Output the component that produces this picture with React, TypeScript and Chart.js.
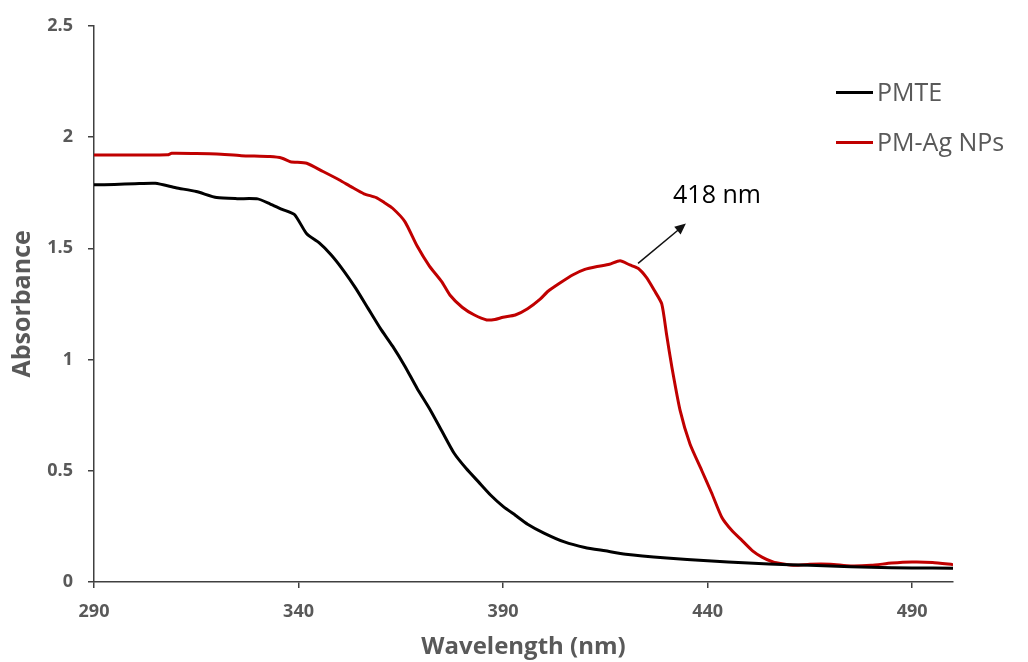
import React, { useEffect, useRef } from "react";
import { Chart, registerables } from "chart.js";

Chart.register(...registerables);

// ---- Data ----
const pmteWavelengths = [
  290, 295, 300, 305, 310, 315, 320, 325, 330, 333, 336, 339, 342, 345, 348, 351, 354, 357, 360,
  363, 366, 369, 372, 375, 378, 381, 384, 387, 390, 393, 396, 400, 405, 410, 415, 420, 430, 440,
  450, 460, 470, 480, 490, 500,
];
const pmteAbsorbance = [
  1.785, 1.787, 1.79, 1.792, 1.772, 1.755, 1.728, 1.723, 1.722, 1.7, 1.675, 1.652, 1.565, 1.525,
  1.47, 1.4, 1.32, 1.23, 1.14, 1.06, 0.97, 0.87, 0.78, 0.68, 0.58, 0.51, 0.45, 0.39, 0.34, 0.3,
  0.26, 0.22, 0.18, 0.155, 0.14, 0.125, 0.108, 0.095, 0.085, 0.078, 0.072, 0.066, 0.063, 0.062,
];

const agWavelengths = [
  290, 300, 308, 309, 315, 320, 326, 333, 336, 338, 342, 346, 350, 353, 356, 359, 361, 363, 366,
  369, 372, 375, 377, 380, 383, 386, 388, 390, 393, 396, 399, 401, 404, 407, 410, 413, 416, 418.6,
  421, 423, 425, 427, 428.8, 430, 431.3, 433.3, 435.7, 438.6, 441, 443.5, 446, 448.4, 451, 453.3,
  456, 458.2, 461.4, 465, 470, 475, 480, 485, 490, 495, 500,
];
const agAbsorbance = [
  1.919, 1.919, 1.92, 1.927, 1.926, 1.924, 1.916, 1.912, 1.905, 1.889, 1.882, 1.845, 1.807, 1.775,
  1.745, 1.728, 1.705, 1.68, 1.62, 1.51, 1.42, 1.35, 1.29, 1.235, 1.2, 1.178, 1.18, 1.19, 1.2,
  1.228, 1.27, 1.307, 1.345, 1.38, 1.405, 1.418, 1.428, 1.444, 1.425, 1.41, 1.37, 1.31, 1.25, 1.11,
  0.963, 0.77, 0.62, 0.5, 0.4, 0.29, 0.23, 0.187, 0.14, 0.112, 0.09, 0.082, 0.075, 0.08, 0.08,
  0.072, 0.075, 0.085, 0.09, 0.088, 0.078,
];

const seriesNames = ["PMTE", "PM-Ag NPs"];
const seriesColors = ["#000000", "#C00000"];
const xTickValues = [290, 340, 390, 440, 490];
const yTickValues = [0, 0.5, 1, 1.5, 2, 2.5];
const yTickLabels = ["0", "0.5", "1", "1.5", "2", "2.5"];
const xTitle = "Wavelength (nm)";
const yTitle = "Absorbance";
const peakLabel = "418 nm";
// arrow tail/head and label anchor, in data units
const arrowFrom = { x: 423, y: 1.432 };
const arrowTo = { x: 434.7, y: 1.611 };
const labelAt = { x: 442.3, y: 1.735 };

const GRAY = "#595959";
const AXIS = "#404040";

export default function App() {
  const ref = useRef<HTMLCanvasElement>(null);

  useEffect(() => {
    if (!ref.current) return;

    const overlay = {
      id: "overlay",
      afterDraw(chart: any) {
        const ctx = chart.ctx;
        const xs = chart.scales.x;
        const ys = chart.scales.y;
        ctx.save();
        // legend
        const legendRows = [92.5, 142.5];
        seriesNames.forEach((name, i) => {
          ctx.strokeStyle = seriesColors[i];
          ctx.lineWidth = 3;
          ctx.beginPath();
          ctx.moveTo(836, legendRows[i]);
          ctx.lineTo(873, legendRows[i]);
          ctx.stroke();
          ctx.fillStyle = GRAY;
          ctx.font = "25px 'Open Sans'";
          ctx.textAlign = "left";
          ctx.textBaseline = "middle";
          ctx.fillText(name, 877, legendRows[i] + 1);
        });
        // annotation arrow
        const x1 = xs.getPixelForValue(arrowFrom.x);
        const y1 = ys.getPixelForValue(arrowFrom.y);
        const x2 = xs.getPixelForValue(arrowTo.x);
        const y2 = ys.getPixelForValue(arrowTo.y);
        const ang = Math.atan2(y2 - y1, x2 - x1);
        const headLen = 11;
        const headW = 5;
        ctx.strokeStyle = "#111";
        ctx.fillStyle = "#111";
        ctx.lineWidth = 1.5;
        ctx.beginPath();
        ctx.moveTo(x1, y1);
        ctx.lineTo(x2 - Math.cos(ang) * headLen * 0.8, y2 - Math.sin(ang) * headLen * 0.8);
        ctx.stroke();
        ctx.beginPath();
        ctx.moveTo(x2, y2);
        ctx.lineTo(
          x2 - Math.cos(ang) * headLen + Math.sin(ang) * headW,
          y2 - Math.sin(ang) * headLen - Math.cos(ang) * headW
        );
        ctx.lineTo(
          x2 - Math.cos(ang) * headLen - Math.sin(ang) * headW,
          y2 - Math.sin(ang) * headLen + Math.cos(ang) * headW
        );
        ctx.closePath();
        ctx.fill();
        // label
        ctx.fillStyle = "#000";
        ctx.font = "25px 'Open Sans'";
        ctx.textAlign = "center";
        ctx.textBaseline = "middle";
        ctx.fillText(peakLabel, xs.getPixelForValue(labelAt.x), ys.getPixelForValue(labelAt.y));
        ctx.restore();
      },
    };

    const chart = new Chart(ref.current, {
      type: "line",
      data: {
        datasets: [
          {
            label: seriesNames[0],
            data: pmteWavelengths.map((x, i) => ({ x, y: pmteAbsorbance[i] })),
            borderColor: seriesColors[0],
            backgroundColor: seriesColors[0],
            borderWidth: 3,
            pointRadius: 0,
            tension: 0.2,
            borderJoinStyle: "round",
          },
          {
            label: seriesNames[1],
            data: agWavelengths.map((x, i) => ({ x, y: agAbsorbance[i] })),
            borderColor: seriesColors[1],
            backgroundColor: seriesColors[1],
            borderWidth: 3,
            pointRadius: 0,
            tension: 0.2,
            borderJoinStyle: "round",
          },
        ],
      },
      options: {
        animation: false,
        responsive: true,
        maintainAspectRatio: false,
        layout: { padding: { left: 0, right: 75, top: 23, bottom: 0 } },
        plugins: {
          legend: { display: false },
          tooltip: { enabled: false },
        },
        scales: {
          x: {
            type: "linear",
            min: 290,
            max: 500,
            afterBuildTicks: (scale: any) => {
              scale.ticks = xTickValues.map((v) => ({ value: v }));
            },
            afterFit: (scale: any) => {
              scale.height = 80;
            },
            grid: {
              display: true,
              drawOnChartArea: false,
              drawTicks: true,
              tickLength: 6,
              color: AXIS,
              lineWidth: 1.5,
            },
            border: { display: true, color: AXIS, width: 1.5 },
            ticks: {
              color: GRAY,
              font: { family: "'Open Sans'", size: 18, weight: "bold" },
              padding: 13,
              maxRotation: 0,
              autoSkip: false,
            },
            title: {
              display: true,
              text: xTitle,
              color: GRAY,
              font: { family: "'Open Sans'", size: 24, weight: "bold" },
              padding: { top: 0, bottom: 0 },
            },
          },
          y: {
            type: "linear",
            min: 0,
            max: 2.5,
            afterBuildTicks: (scale: any) => {
              scale.ticks = yTickValues.map((v) => ({ value: v }));
            },
            afterFit: (scale: any) => {
              scale.width = 94;
            },
            grid: {
              display: true,
              drawOnChartArea: false,
              drawTicks: true,
              tickLength: 6,
              color: AXIS,
              lineWidth: 1.5,
            },
            border: { display: true, color: AXIS, width: 1.5 },
            ticks: {
              color: GRAY,
              font: { family: "'Open Sans'", size: 18, weight: "bold" },
              padding: 15,
              callback: (v: any) => {
                const idx = yTickValues.indexOf(Number(v));
                return idx >= 0 ? yTickLabels[idx] : "";
              },
            },
            title: {
              display: true,
              text: yTitle,
              color: GRAY,
              font: { family: "'Open Sans'", size: 25, weight: "bold" },
              padding: { top: 8, bottom: 0 },
            },
          },
        },
      },
      plugins: [overlay],
    } as any);

    return () => chart.destroy();
  }, []);

  return (
    <div style={{ position: "absolute", left: 0, top: 0, width: 1028, height: 662, background: "#fff" }}>
      <canvas ref={ref} />
    </div>
  );
}
